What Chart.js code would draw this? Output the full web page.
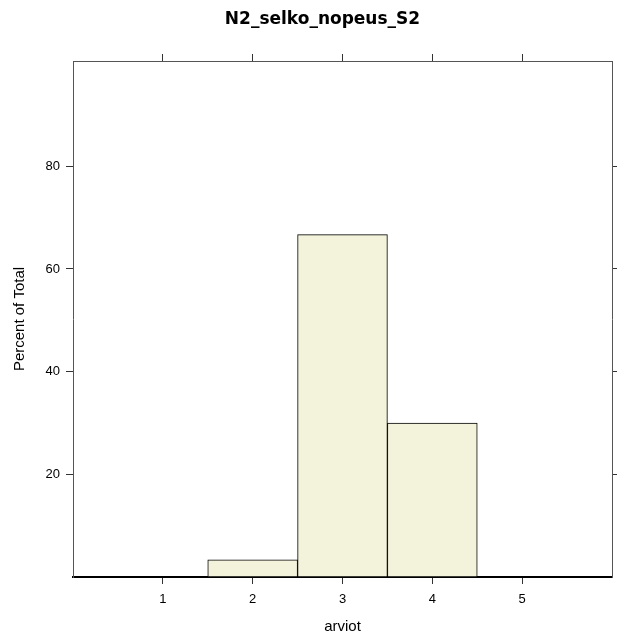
<!DOCTYPE html>
<html><head><meta charset="utf-8">
<script src="https://cdn.jsdelivr.net/npm/chart.js@4/dist/chart.umd.min.js"></script>
<style>html,body{margin:0;padding:0;background:#fff}canvas{display:block}</style>
</head><body>
<canvas id="c" width="617" height="639"></canvas>
<script>
const titleText = 'N2_selko_nopeus_S2';
const xLabel = 'arviot';
const yLabel = 'Percent of Total';
const categories = [1, 2, 3, 4, 5];
const percents = [0, 3.33, 66.67, 30.0, 0];
const xTicks = [1, 2, 3, 4, 5];
const yTicks = [20, 40, 60, 80];
const xRange = [0, 6];
const yRange = [0, 100.5];

const FAM = "'Liberation Sans', Arial, sans-serif";

const setTicks = arr => s => { s.ticks = arr.map(v => ({ value: v })); };

const mainTitle = {
  id: 'mainTitle',
  afterDraw(chart) {
    const ctx = chart.ctx;
    ctx.save();
    ctx.font = "bold 17px 'DejaVu Sans', sans-serif";
    ctx.fillStyle = '#000';
    ctx.textAlign = 'center';
    ctx.textBaseline = 'middle';
    ctx.fillText(titleText, 322.5, 19.5);
    ctx.restore();
  }
};

new Chart(document.getElementById('c'), {
  type: 'bar',
  data: {
    datasets: [{
      data: categories.map((c, i) => ({ x: c, y: percents[i] })),
      backgroundColor: 'rgb(243,243,220)',
      borderColor: '#000',
      borderWidth: 1,
      borderSkipped: false,
      barPercentage: 1,
      categoryPercentage: 1,
      xAxisID: 'x',
      yAxisID: 'y'
    }]
  },
  plugins: [mainTitle],
  options: {
    responsive: false,
    animation: false,
    layout: { padding: 0 },
    plugins: {
      legend: { display: false },
      tooltip: { enabled: false },
      title: { display: false }
    },
    scales: {
      x: {
        type: 'linear', position: 'bottom', min: xRange[0], max: xRange[1], offset: false,
        afterBuildTicks: setTicks(xTicks),
        afterFit: s => { s.height = 62; },
        grid: { offset: false, drawOnChartArea: false, drawTicks: true, tickLength: 7, color: '#333' },
        border: { display: true, color: '#000', width: 2 },
        ticks: { font: { family: FAM, size: 13 }, color: '#000', padding: 8, maxRotation: 0, autoSkip: false },
        title: { display: true, text: xLabel, color: '#000', font: { family: FAM, size: 15 }, padding: { top: 0, bottom: 3 } }
      },
      x2: {
        type: 'linear', position: 'top', min: xRange[0], max: xRange[1], offset: false,
        afterBuildTicks: setTicks(xTicks),
        afterFit: s => { s.height = 61; },
        grid: { offset: false, drawOnChartArea: false, drawTicks: true, tickLength: 7, color: '#333' },
        border: { display: true, color: '#555', width: 1 },
        ticks: { display: false }
      },
      y: {
        type: 'linear', position: 'left', min: yRange[0], max: yRange[1],
        afterBuildTicks: setTicks(yTicks),
        afterFit: s => { s.width = 73; },
        grid: { drawOnChartArea: false, drawTicks: true, tickLength: 7, color: '#333' },
        border: { display: true, color: '#555', width: 1 },
        ticks: { font: { family: FAM, size: 13 }, color: '#000', padding: 6 },
        title: { display: true, text: yLabel, color: '#000', font: { family: FAM, size: 15 }, padding: { top: 10.7, bottom: 0 } }
      },
      y2: {
        type: 'linear', position: 'right', min: yRange[0], max: yRange[1],
        afterBuildTicks: setTicks(yTicks),
        afterFit: s => { s.width = 5; },
        grid: { drawOnChartArea: false, drawTicks: true, tickLength: 5, color: '#333' },
        border: { display: true, color: '#555', width: 1 },
        ticks: { display: false }
      }
    }
  }
});
</script>
</body></html>
